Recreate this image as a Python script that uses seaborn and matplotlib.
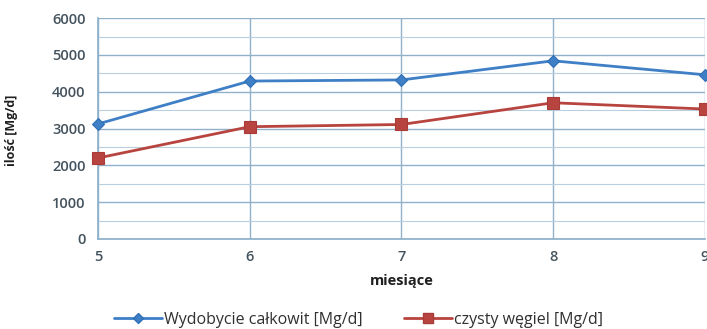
import matplotlib
matplotlib.use("Agg")
import matplotlib.pyplot as plt
from matplotlib.ticker import MultipleLocator
import seaborn as sns
import pandas as pd

months = [5, 6, 7, 8, 9]
total_output = [3125, 4290, 4320, 4840, 4460]
clean_coal = [2200, 3050, 3110, 3700, 3530]
series_names = ["Wydobycie całkowit [Mg/d]", "czysty węgiel [Mg/d]"]

df = pd.DataFrame({
    "miesiące": months * 2,
    "ilość": total_output + clean_coal,
    "seria": [series_names[0]] * len(months) + [series_names[1]] * len(months),
})

sns.set_theme(style="white")
plt.rcParams["font.family"] = ["Open Sans", "DejaVu Sans"]

fig = plt.figure(figsize=(7.07, 3.29), dpi=100)
ax = fig.add_axes([0.1386, 0.2736, 0.8584, 0.6714])

blue, red = "#3f7fc6", "#b8443f"
palette = {series_names[0]: blue, series_names[1]: red}
sns.lineplot(
    data=df, x="miesiące", y="ilość", hue="seria", style="seria",
    markers={series_names[0]: "D", series_names[1]: "s"}, dashes=False,
    palette=palette, linewidth=2.0, markersize=7, markeredgewidth=0.8,
    ax=ax, legend=False, clip_on=False, zorder=3,
)
for line, ec in zip(ax.lines, ["#2f6fb6", "#a83b38"]):
    line.set_markeredgecolor(ec)
ax.lines[0].set_markersize(6)
ax.lines[1].set_markersize(8)

ax.set_xlim(5, 9)
ax.set_ylim(0, 6000)
ax.set_xticks(months)
ax.yaxis.set_major_locator(MultipleLocator(1000))
ax.yaxis.set_minor_locator(MultipleLocator(500))
ax.grid(True, which="major", axis="both", color="#8fb1c9", linewidth=1.0)
ax.grid(True, which="minor", axis="y", color="#b9cfe0", linewidth=0.8)
ax.set_axisbelow(True)
for side in ["top", "right"]:
    ax.spines[side].set_visible(False)
ax.spines["left"].set_color("#8fb1c9")
ax.spines["bottom"].set_color("#8fb1c9")
ax.tick_params(axis="both", which="major", length=4, color="#8fb1c9",
               labelsize=10.5, labelcolor="#44535e", pad=5)
ax.tick_params(axis="y", which="minor", length=0)
ax.tick_params(axis="x", direction="inout", length=6)
for lbl in ax.get_xticklabels() + ax.get_yticklabels():
    lbl.set_fontweight("semibold")

ax.set_xlabel("miesiące", fontsize=10.5, fontweight="bold", color="#202020", labelpad=7)
ax.set_ylabel("ilość [Mg/d]", fontsize=9, fontweight="bold", color="#202020")
ax.yaxis.set_label_coords(-0.132, 0.49)

handles = [
    plt.Line2D([], [], color=blue, marker="D", markersize=5, linewidth=2,
               markeredgecolor="#2f6fb6", label=series_names[0]),
    plt.Line2D([], [], color=red, marker="s", markersize=7, linewidth=2,
               markeredgecolor="#a83b38", label=series_names[1]),
]
fig.legend(handles=handles, loc="center", bbox_to_anchor=(0.507, 0.028), ncol=2,
           frameon=False, fontsize=11.5, handlelength=3.0, handletextpad=0.1,
           columnspacing=2.6, labelcolor="#303030", borderpad=0)

fig.savefig("out.png", dpi=100, facecolor="white")
